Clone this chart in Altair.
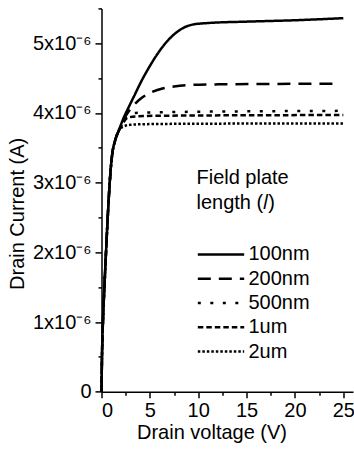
import altair as alt
import pandas as pd

# Output characteristics: drain current (A) vs drain voltage (V) for five field-plate lengths
lengths = ["100nm", "200nm", "500nm", "1um", "2um"]

# shared linear region, identical for every device
v_lin = [0, 0.05, 0.15, 0.3, 0.5, 0.7, 0.9, 1.1, 1.4, 1.8]
i_lin = [0, 0.5e-6, 1.0e-6, 1.5e-6, 2.1e-6, 2.65e-6, 3.1e-6, 3.4e-6, 3.6e-6, 3.75e-6]

# saturation region per field-plate length
v_100nm = [2.2, 2.8, 3.4, 4.1, 4.9, 5.8, 6.8, 7.7, 8.6, 9.5, 11, 15, 20, 25]
i_100nm = [3.9e-6, 4.08e-6, 4.25e-6, 4.45e-6, 4.65e-6, 4.85e-6, 5.03e-6, 5.15e-6,
           5.23e-6, 5.27e-6, 5.29e-6, 5.31e-6, 5.33e-6, 5.36e-6]

v_200nm = [2.2, 2.8, 3.4, 4.2, 5.2, 6.3, 7.5, 9, 12, 24.5]
i_200nm = [3.88e-6, 4.02e-6, 4.12e-6, 4.22e-6, 4.3e-6, 4.35e-6, 4.38e-6, 4.4e-6,
           4.41e-6, 4.42e-6]

v_500nm = [2.2, 2.8, 3.5, 6, 25]
i_500nm = [3.86e-6, 3.97e-6, 4.0e-6, 4.01e-6, 4.03e-6]

v_1um = [2.2, 2.7, 3.5, 6, 25]
i_1um = [3.85e-6, 3.93e-6, 3.95e-6, 3.96e-6, 3.97e-6]

v_2um = [2.2, 3, 5, 10, 25]
i_2um = [3.8e-6, 3.83e-6, 3.84e-6, 3.845e-6, 3.85e-6]

sat = {
    "100nm": (v_100nm, i_100nm),
    "200nm": (v_200nm, i_200nm),
    "500nm": (v_500nm, i_500nm),
    "1um": (v_1um, i_1um),
    "2um": (v_2um, i_2um),
}

rows = []
for name in lengths:
    vs, cs = sat[name]
    for v, c in zip(v_lin + vs, i_lin + cs):
        rows.append({"length": name, "V": v, "I": c})
df = pd.DataFrame(rows)

dashes = [[1, 0], [13, 8], [3, 9.5], [5.5, 3], [2.5, 2]]

x_ticks = [i * 2.5 for i in range(11)]
y_ticks = [i * 0.5e-6 for i in range(12)]

FONT = "Liberation Sans"

chart = (
    alt.Chart(df)
    .mark_line(interpolate="monotone", strokeWidth=2.5, color="black")
    .encode(
        x=alt.X(
            "V:Q",
            scale=alt.Scale(domain=[0, 26], nice=False, zero=False),
            axis=alt.Axis(
                title="Drain voltage (V)",
                values=x_ticks,
                labelExpr="datum.value % 5 == 0 ? datum.label : ''",
                tickSize={"condition": {"test": "datum.value % 5 == 0", "value": 6}, "value": 3.5},
                titleX=110,
                titlePadding=2,
                labelPadding=3,
            ),
        ),
        y=alt.Y(
            "I:Q",
            scale=alt.Scale(domain=[0, 5.5e-6], nice=False),
            axis=alt.Axis(
                title="Drain Current (A)",
                values=y_ticks,
                labelExpr=(
                    "datum.value == 0 ? '0' : "
                    "(abs(datum.value * 1e6 - round(datum.value * 1e6)) < 0.01 ? "
                    "round(datum.value * 1e6) + 'x10⁻⁶' : '')"
                ),
                tickSize={
                    "condition": {
                        "test": "abs(datum.value * 1e6 - round(datum.value * 1e6)) < 0.01",
                        "value": 6.5,
                    },
                    "value": 3.5,
                },
                labelPadding=4,
                titlePadding=5,
                titleY=205,
            ),
        ),
        strokeDash=alt.StrokeDash(
            "length:N",
            scale=alt.Scale(domain=lengths, range=dashes),
            sort=lengths,
            legend=alt.Legend(
                title=["Field plate", "length (𝑙)"],
                orient="none",
                legendX=95,
                legendY=160,
                symbolType="stroke",
                symbolSize=2150,
                symbolStrokeWidth=2.5,
                symbolStrokeColor="black",
                clipHeight=22,
                rowPadding=2.3,
                labelOffset=3,
                titlePadding=30,
                titleLineHeight=25,
                padding=0,
            ),
        ),
        detail="length:N",
    )
    .properties(
        width=251.5,
        height=383.3,
        autosize=alt.AutoSizeParams(type="none"),
        padding={"left": 101.5, "top": 8.4, "right": 1, "bottom": 60},
    )
    .configure(font=FONT)
    .configure_view(stroke=None)
    .configure_axis(
        domainColor="black",
        domainWidth=1.5,
        tickColor="black",
        tickWidth=1.5,
        grid=False,
        labelFont=FONT,
        labelFontSize=20,
        labelColor="black",
        titleFont=FONT,
        titleFontSize=20,
        titleFontWeight="normal",
        titleColor="black",
    )
    .configure_legend(
        labelFont=FONT,
        labelFontSize=20,
        labelColor="black",
        titleFont=FONT,
        titleFontSize=20,
        titleFontWeight="normal",
        titleColor="black",
    )
)

chart.save("out.html", embed_options={"renderer": "svg", "actions": False})
